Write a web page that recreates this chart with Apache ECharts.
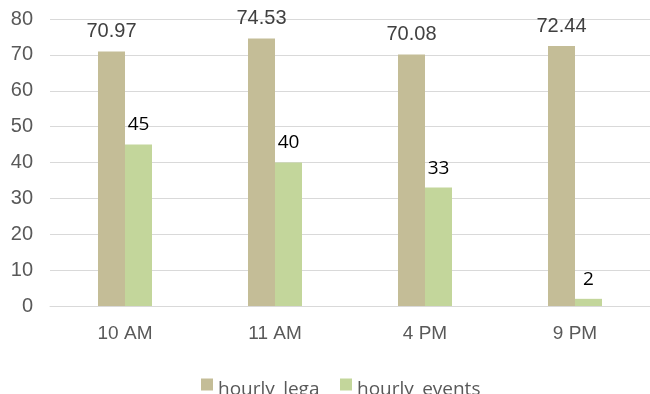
<!DOCTYPE html>
<html>
<head>
<meta charset="utf-8">
<script src="https://cdn.jsdelivr.net/npm/echarts@6/dist/echarts.min.js"></script>
<style>
  html, body { margin: 0; padding: 0; background: #ffffff; }
  #chart { width: 650px; height: 394px; }
</style>
</head>
<body>
<div id="chart"></div>
<script>
// Hours shown on the category axis
var categories = ['10 AM', '11 AM', '4 PM', '9 PM'];
// Series names and values
var seriesNames = ['hourly_lega', 'hourly_events'];
var hourlyLegal = [70.97, 74.53, 70.08, 72.44];
var hourlyEvents = [45, 40, 33, 2];
// Value axis ticks
var yTicks = [0, 10, 20, 30, 40, 50, 60, 70, 80];

var chart = echarts.init(document.getElementById('chart'), null, { renderer: 'canvas' });

// One legend block per series so each key sits at its own spot.
// An empty tall strut lets the name sit at the bottom of its line,
// a little lower than the key square.
function legendBlock(name, left) {
  return {
    left: left,
    top: 375,
    padding: 0,
    itemWidth: 12,
    itemHeight: 12,
    icon: 'rect',
    formatter: '{s|}{t|{name}}',
    textStyle: {
      fontFamily: 'Open Sans',
      fontSize: 19,
      color: '#595959',
      rich: {
        s: { width: 0, height: 30 },
        t: { fontFamily: 'Open Sans', fontSize: 19, color: '#595959', verticalAlign: 'bottom' }
      }
    },
    data: [name]
  };
}

chart.setOption({
  backgroundColor: '#ffffff',
  animation: false,
  grid: { left: 50, right: -7, top: 19, bottom: 88, containLabel: false },
  legend: [legendBlock(seriesNames[0], 201), legendBlock(seriesNames[1], 340)],
  xAxis: {
    type: 'category',
    data: categories,
    axisLine: { show: true, lineStyle: { color: '#d9d9d9', width: 1 } },
    axisTick: { show: false },
    axisLabel: { fontFamily: 'Liberation Sans', fontSize: 19, color: '#595959', margin: 18 }
  },
  yAxis: {
    type: 'value',
    min: yTicks[0],
    max: yTicks[yTicks.length - 1],
    interval: 10,
    axisLine: { show: false },
    axisTick: { show: false },
    splitLine: { show: true, lineStyle: { color: '#d9d9d9', width: 1 } },
    axisLabel: { fontFamily: 'Liberation Sans', fontSize: 20, color: '#595959', margin: 17 }
  },
  series: [
    {
      name: seriesNames[0],
      type: 'bar',
      data: hourlyLegal,
      barWidth: 27,
      barGap: '0%',
      itemStyle: { color: '#c4bd97' },
      label: {
        show: true,
        position: 'top',
        distance: 10,
        fontFamily: 'Liberation Sans',
        fontSize: 20,
        color: '#404040',
        formatter: function (p) { return p.value.toFixed(2); }
      }
    },
    {
      name: seriesNames[1],
      type: 'bar',
      data: hourlyEvents,
      barWidth: 27,
      barGap: '0%',
      itemStyle: { color: '#c3d69b' },
      label: {
        show: true,
        position: 'top',
        distance: 10,
        fontFamily: 'Open Sans',
        fontSize: 19,
        color: '#000000'
      }
    }
  ]
});
</script>
</body>
</html>
